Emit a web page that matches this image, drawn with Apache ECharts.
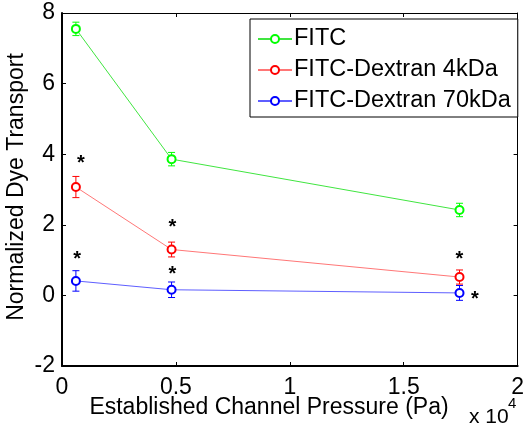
<!DOCTYPE html>
<html>
<head>
<meta charset="utf-8">
<script src="https://cdn.jsdelivr.net/npm/echarts@6/dist/echarts.min.js"></script>
<style>
html,body{margin:0;padding:0;background:#fff;}
#chart{width:527px;height:432px;}
</style>
</head>
<body>
<div id="chart"></div>
<script>
// ---- data ----
const seriesNames = ['FITC', 'FITC-Dextran 4kDa', 'FITC-Dextran 70kDa'];
const pressure = [610, 4810, 17450];            // Pa
const fitcMean = [7.55, 3.86, 2.42];
const fitcErr = [0.19, 0.19, 0.19];
const dex4Mean = [3.07, 1.30, 0.52];
const dex4Err = [0.30, 0.21, 0.20];
const dex70Mean = [0.41, 0.16, 0.07];
const dex70Err = [0.29, 0.22, 0.21];
const starX = [830, 670, 4850, 4850, 17450, 18120];
const starY = [3.88, 1.17, 2.07, 0.74, 1.16, 0.04];
const xTicks = [0, 5000, 10000, 15000, 20000];
const yTicks = [-2, 0, 2, 4, 6, 8];

const colors = ['#00ff00', '#ff0000', '#0000ff'];
const lineColors = ['rgba(0,220,0,0.75)', 'rgba(255,60,60,0.7)', 'rgba(40,40,255,0.75)'];
const FONT = 'Liberation Sans, Arial, sans-serif';

const means = [fitcMean, dex4Mean, dex70Mean];
const errs = [fitcErr, dex4Err, dex70Err];

const chart = echarts.init(document.getElementById('chart'), null, {renderer: 'canvas'});

const series = [];
means.forEach((m, i) => {
  series.push({
    name: seriesNames[i],
    type: 'line',
    data: pressure.map((x, k) => [x, m[k]]),
    symbol: 'emptyCircle',
    symbolSize: 8,
    lineStyle: {color: lineColors[i], width: 1},
    itemStyle: {color: colors[i], borderColor: colors[i], borderWidth: 1},
    z: 3
  });
  series.push({
    name: seriesNames[i] + ' err',
    type: 'custom',
    data: pressure.map((x, k) => [x, m[k] - errs[i][k], m[k] + errs[i][k]]),
    renderItem: function (params, api) {
      const lo = api.coord([api.value(0), api.value(1)]);
      const hi = api.coord([api.value(0), api.value(2)]);
      const w = 3.5;
      const st = {stroke: colors[i], lineWidth: 1};
      return {
        type: 'group',
        children: [
          {type: 'line', shape: {x1: lo[0], y1: lo[1], x2: hi[0], y2: hi[1]}, style: st},
          {type: 'line', shape: {x1: lo[0] - w, y1: lo[1], x2: lo[0] + w, y2: lo[1]}, style: st},
          {type: 'line', shape: {x1: hi[0] - w, y1: hi[1], x2: hi[0] + w, y2: hi[1]}, style: st}
        ]
      };
    },
    z: 2
  });
});

series.push({
  name: 'stars',
  type: 'custom',
  data: starX.map((x, k) => [x, starY[k]]),
  renderItem: function (params, api) {
    const p = api.coord([api.value(0), api.value(1)]);
    return {
      type: 'text',
      x: p[0], y: p[1] + 5,
      style: {text: '*', textAlign: 'center', textVerticalAlign: 'middle',
        font: 'bold 20px ' + FONT, fill: '#000'}
    };
  },
  z: 4
});

const axisCommonX = {
  type: 'value', min: 0, max: 20000, interval: 5000,
  splitLine: {show: false}
};
const axisCommonY = {
  type: 'value', min: -2, max: 8, interval: 2,
  splitLine: {show: false}
};

chart.setOption({
  animation: false,
  backgroundColor: '#fff',
  grid: {left: 62, right: 6, top: 13, bottom: 66, containLabel: false},
  xAxis: [
    Object.assign({}, axisCommonX, {
      position: 'bottom',
      axisLine: {show: true, onZero: false, lineStyle: {color: '#000', width: 2}},
      axisTick: {show: true, inside: true, length: 4, lineStyle: {color: '#000', width: 1}},
      axisLabel: {margin: 10, color: '#000', fontSize: 23, fontFamily: FONT,
        formatter: v => xTicks.indexOf(v) >= 0 ? String(v / 10000) : ''}
    }),
    Object.assign({}, axisCommonX, {
      position: 'top',
      axisLine: {show: true, onZero: false, lineStyle: {color: '#000', width: 1}},
      axisTick: {show: true, inside: true, length: 4, lineStyle: {color: '#000', width: 1}},
      axisLabel: {show: false}
    })
  ],
  yAxis: [
    Object.assign({}, axisCommonY, {
      position: 'left',
      axisLine: {show: true, onZero: false, lineStyle: {color: '#000', width: 2}},
      axisTick: {show: true, inside: true, length: 4, lineStyle: {color: '#000', width: 1}},
      axisLabel: {margin: 7, color: '#000', fontSize: 23, fontFamily: FONT,
        formatter: v => yTicks.indexOf(v) >= 0 ? String(v) : ''}
    }),
    Object.assign({}, axisCommonY, {
      position: 'right',
      axisLine: {show: true, onZero: false, lineStyle: {color: '#000', width: 1}},
      axisTick: {show: true, inside: true, length: 4, lineStyle: {color: '#000', width: 1}},
      axisLabel: {show: false}
    })
  ],
  legend: {
    data: seriesNames,
    orient: 'vertical',
    left: 250, top: 19,
    padding: [8, 7, 4, 7],
    itemGap: 7,
    itemWidth: 34, itemHeight: 10,
    backgroundColor: '#fff',
    borderColor: '#000', borderWidth: 1, borderRadius: 0,
    textStyle: {fontSize: 23.5, fontFamily: FONT, color: '#000', lineHeight: 23, padding: [0, 0, 0, -3]},
    selectedMode: false
  },
  graphic: [
    {type: 'text', x: 17, y: 187, rotation: Math.PI / 2,
      style: {text: 'Normalized Dye Transport', textAlign: 'center', textVerticalAlign: 'middle',
        font: '23px ' + FONT, fill: '#000'}},
    {type: 'text', x: 269, y: 408,
      style: {text: 'Established Channel Pressure (Pa)', textAlign: 'center', textVerticalAlign: 'middle',
        font: '23px ' + FONT, fill: '#000'}},
    {type: 'text', x: 469, y: 417,
      style: {text: 'x 10', textAlign: 'left', textVerticalAlign: 'middle',
        font: '21px ' + FONT, fill: '#000'}},
    {type: 'text', x: 508, y: 404,
      style: {text: '4', textAlign: 'left', textVerticalAlign: 'middle',
        font: '15px ' + FONT, fill: '#000'}}
  ],
  series: series
});
</script>
</body>
</html>
